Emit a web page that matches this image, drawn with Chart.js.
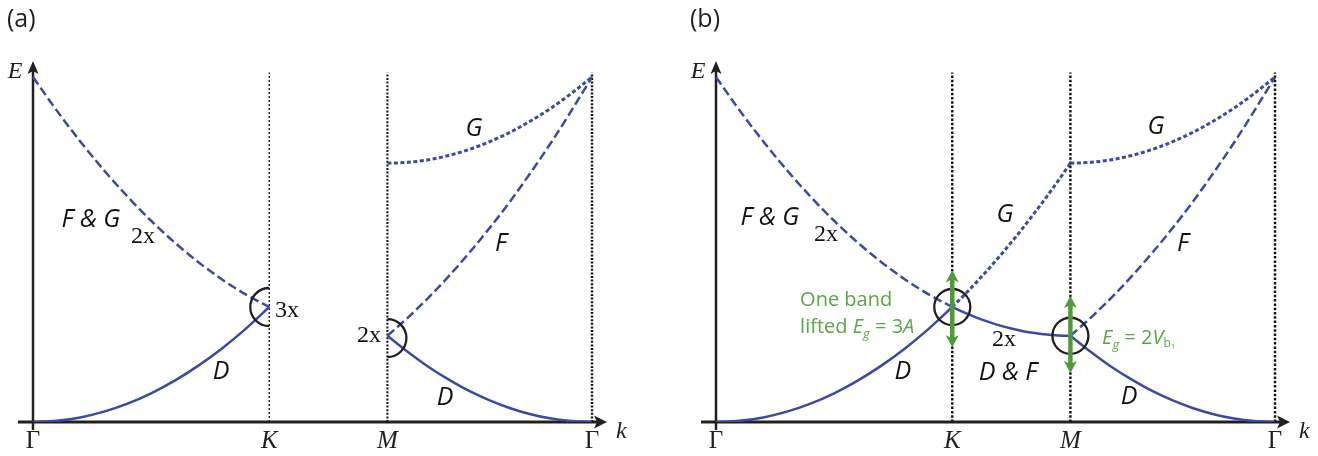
<!DOCTYPE html>
<html><head><meta charset="utf-8">
<script src="https://cdn.jsdelivr.net/npm/chart.js@4.4.1/dist/chart.umd.min.js"></script>
<style>
html,body{margin:0;padding:0;background:#fff;}
#wrap{position:relative;width:1318px;height:456px;overflow:hidden;}
canvas{position:absolute;top:0;}
</style></head>
<body>
<div id="wrap">
<canvas id="ca" width="640" height="456" style="left:0px"></canvas>
<canvas id="cb" width="635" height="456" style="left:683px"></canvas>
</div>
<script>
// ---- data (k along Γ-K-M-Γ, E in units of the free-electron energy at K) ----
const kTicks  = [0, 1, 1.5, 2.366];
const kLabels = ['Γ', 'K', 'M', 'Γ'];
const kGK = [0, 0.1, 0.2, 0.3, 0.4, 0.5, 0.6, 0.7, 0.8, 0.9, 1.0];
const kKM = [1.0, 1.05, 1.1, 1.15, 1.2, 1.25, 1.3, 1.35, 1.4, 1.45, 1.5];
const kMG = [1.5, 1.587, 1.673, 1.760, 1.846, 1.933, 2.020, 2.106, 2.193, 2.279, 2.366];
const D_GK  = [0, 0.01, 0.04, 0.09, 0.16, 0.25, 0.36, 0.49, 0.64, 0.81, 1.0];
const FG_GK = [3.0, 2.71, 2.44, 2.19, 1.96, 1.75, 1.56, 1.39, 1.24, 1.11, 1.0];
const DF_KM = [1.0, 0.953, 0.91, 0.873, 0.84, 0.813, 0.79, 0.773, 0.76, 0.753, 0.75];
const G_KM  = [1.0, 1.103, 1.21, 1.323, 1.44, 1.563, 1.69, 1.823, 1.96, 2.103, 2.25];
const D_MG  = [0.75, 0.608, 0.48, 0.368, 0.27, 0.188, 0.12, 0.068, 0.03, 0.008, 0];
const F_MG  = [0.75, 0.908, 1.08, 1.268, 1.47, 1.688, 1.92, 2.168, 2.43, 2.708, 3.0];
const G_MG  = [2.25, 2.258, 2.28, 2.318, 2.37, 2.438, 2.52, 2.618, 2.73, 2.858, 3.0];
const E_TOP = 3.04;
const gapK = [1.32, 0.65];   // green arrow at K (b)
const gapM = [1.096, 0.426]; // green arrow at M (b)

const BLUE = '#3b4aa2', INK = '#231f20', GREEN = '#4f9b3c', GTXT = '#5aa548';
const F_IT = "italic 25px 'Open Sans'";
const F_SER = "24px 'Liberation Serif'";
const F_AX = "italic 24px 'Liberation Serif'";

function pts(x, y) { return x.map((k, i) => ({x: k, y: y[i]})); }
function curve(data, style) {
  const d = {data, borderColor: BLUE, borderWidth: 2.5, pointRadius: 0, fill: false,
             cubicInterpolationMode: 'monotone', order: 1};
  if (style === 'dash') d.borderDash = [9, 4];
  if (style === 'dot') { d.borderDash = [4, 2.5]; d.borderWidth = 3; }
  return d;
}
function vline(k, w, dash) {
  return {data: [{x: k, y: 0}, {x: k, y: E_TOP}], borderColor: '#111', borderWidth: w,
          borderDash: dash, pointRadius: 0, fill: false, order: 10};
}

function richText(ctx, x, y, segs, align) {
  let w = 0;
  segs.forEach(s => { ctx.font = s[1]; w += ctx.measureText(s[0]).width; });
  let cx = align === 'left' ? x : x - w / 2;
  ctx.textAlign = 'left'; ctx.textBaseline = 'middle';
  segs.forEach(s => { ctx.font = s[1]; ctx.fillStyle = s[3]; ctx.fillText(s[0], cx, y + s[2]); cx += ctx.measureText(s[0]).width; });
}

function decoPlugin(cfg) {
  return {
    id: 'deco',
    beforeDatasetsDraw(chart) {
      const ctx = chart.ctx, xs = chart.scales.x, ys = chart.scales.y, ca = chart.chartArea;
      const x0 = xs.getPixelForValue(0), y0 = ys.getPixelForValue(0);
      ctx.save();
      ctx.strokeStyle = INK; ctx.fillStyle = INK; ctx.lineWidth = 3;
      ctx.beginPath(); ctx.moveTo(ca.left, y0); ctx.lineTo(ca.right - 6, y0); ctx.stroke();
      ctx.beginPath(); ctx.moveTo(ca.right + 2, y0); ctx.lineTo(ca.right - 11, y0 - 6.5);
      ctx.lineTo(ca.right - 8, y0); ctx.lineTo(ca.right - 11, y0 + 6.5); ctx.closePath(); ctx.fill();
      ctx.lineWidth = 2.5;
      ctx.beginPath(); ctx.moveTo(x0, y0 + 8); ctx.lineTo(x0, ca.top + 8); ctx.stroke();
      ctx.beginPath(); ctx.moveTo(x0, ca.top + 1); ctx.lineTo(x0 - 5.5, ca.top + 14);
      ctx.lineTo(x0, ca.top + 11); ctx.lineTo(x0 + 5.5, ca.top + 14); ctx.closePath(); ctx.fill();
      ctx.restore();
    },
    afterDatasetsDraw(chart) {
      const ctx = chart.ctx, xs = chart.scales.x, ys = chart.scales.y;
      const px = k => xs.getPixelForValue(k), py = e => ys.getPixelForValue(e);
      ctx.save();
      ctx.strokeStyle = INK; ctx.lineWidth = 2.3;
      cfg.arcs.forEach(a => {
        ctx.beginPath(); ctx.arc(px(a.k), py(a.e), a.r, a.a0, a.a1); ctx.stroke();
      });
      (cfg.arrows || []).forEach(a => {
        const x = px(a.k), yt = py(a.e[0]), yb = py(a.e[1]);
        ctx.strokeStyle = GREEN; ctx.fillStyle = GREEN; ctx.lineWidth = 4.5;
        ctx.beginPath(); ctx.moveTo(x, yt + 8); ctx.lineTo(x, yb - 8); ctx.stroke();
        ctx.beginPath(); ctx.moveTo(x, yt); ctx.lineTo(x - 6.5, yt + 12); ctx.lineTo(x, yt + 9);
        ctx.lineTo(x + 6.5, yt + 12); ctx.closePath(); ctx.fill();
        ctx.beginPath(); ctx.moveTo(x, yb); ctx.lineTo(x - 6.5, yb - 12); ctx.lineTo(x, yb - 9);
        ctx.lineTo(x + 6.5, yb - 12); ctx.closePath(); ctx.fill();
      });
      ctx.textBaseline = 'middle';
      cfg.labels.forEach(l => {
        ctx.font = l.f; ctx.fillStyle = '#111'; ctx.textAlign = 'center';
        ctx.fillText(l.t, px(l.k), py(l.e));
      });
      (cfg.rich || []).forEach(r => richText(ctx, px(r.k), py(r.e), r.segs, r.align));
      ctx.font = F_AX; ctx.fillStyle = INK; ctx.textAlign = 'center'; ctx.textBaseline = 'middle';
      ctx.fillText('E', px(-0.076), py(3.05));
      ctx.fillText('k', px(2.49), py(-0.08));
      ctx.font = "25px 'Open Sans'"; ctx.textAlign = 'left'; ctx.textBaseline = 'middle';
      ctx.fillText(cfg.name, 7, 20);
      ctx.restore();
    }
  };
}

function makeChart(id, datasets, cfg, rightPad) {
  new Chart(document.getElementById(id), {
    type: 'line',
    data: {datasets},
    options: {
      responsive: false, animation: false, events: [],
      layout: {padding: {left: 18, right: rightPad, top: 60, bottom: 0}},
      plugins: {legend: {display: false}, tooltip: {enabled: false}, title: {display: false}},
      scales: {
        x: {type: 'linear', min: -0.0635, max: 2.421,
            grid: {display: false}, border: {display: false},
            afterBuildTicks: s => { s.ticks = kTicks.map(v => ({value: v})); },
            afterFit: s => { s.height = 34; },
            ticks: {autoSkip: false, maxRotation: 0, padding: -4, color: INK,
                    callback: (v, i) => kLabels[i],
                    font: c => ({family: "'Liberation Serif'", size: 25,
                                 style: (c.index === 1 || c.index === 2) ? 'italic' : 'normal'})}},
        y: {type: 'linear', min: 0, max: 3.148, display: false}
      }
    },
    plugins: [decoPlugin(cfg)]
  });
}

// ---- panel (a) ----
makeChart('ca', [
  curve(pts(kGK, D_GK), 'solid'),
  curve(pts(kGK, FG_GK), 'dash'),
  curve(pts(kMG, D_MG), 'solid'),
  curve(pts(kMG, F_MG), 'dash'),
  curve(pts(kMG, G_MG), 'dot'),
  vline(kTicks[1], 1.3, [2, 2]),
  vline(kTicks[2], 2, [2, 1.6]),
  vline(kTicks[3], 2.4, [2, 1.6])
], {
  name: '(a)',
  arcs: [{k: 1, e: 1.0, r: 19, a0: Math.PI * 0.5, a1: Math.PI * 1.5},
         {k: 1.5, e: 0.73, r: 19, a0: -Math.PI * 0.5, a1: Math.PI * 0.5}],
  labels: [
    {t: 'F & G', k: 0.245, e: 1.757, f: F_IT},
    {t: '2x', k: 0.466, e: 1.609, f: F_SER},
    {t: '3x', k: 1.075, e: 0.965, f: F_SER},
    {t: 'D', k: 0.796, e: 0.435, f: F_IT},
    {t: '2x', k: 1.422, e: 0.748, f: F_SER},
    {t: 'G', k: 1.867, e: 2.548, f: F_IT},
    {t: 'F', k: 1.981, e: 1.548, f: F_IT},
    {t: 'D', k: 1.744, e: 0.209, f: F_IT}
  ]
}, 35);

// ---- panel (b) ----
const GF = "20px 'Open Sans'", GFI = "italic 20px 'Open Sans'", GFS = "italic 13px 'Open Sans'";
makeChart('cb', [
  curve(pts(kGK, D_GK), 'solid'),
  curve(pts(kGK, FG_GK), 'dash'),
  curve(pts(kKM, DF_KM), 'solid'),
  curve(pts(kKM, G_KM), 'dot'),
  curve(pts(kMG, D_MG), 'solid'),
  curve(pts(kMG, F_MG), 'dash'),
  curve(pts(kMG, G_MG), 'dot'),
  vline(kTicks[1], 2.4, [2.5, 1.8]),
  vline(kTicks[2], 2.4, [2.5, 1.8]),
  vline(kTicks[3], 2.4, [2.5, 1.8])
], {
  name: '(b)',
  arcs: [{k: 1, e: 1.0, r: 18, a0: 0, a1: Math.PI * 2},
         {k: 1.5, e: 0.75, r: 18, a0: 0, a1: Math.PI * 2}],
  arrows: [{k: 1, e: gapK}, {k: 1.5, e: gapM}],
  labels: [
    {t: 'F & G', k: 0.228, e: 1.774, f: F_IT},
    {t: '2x', k: 0.466, e: 1.626, f: F_SER},
    {t: 'G', k: 1.223, e: 1.80, f: F_IT},
    {t: 'D', k: 0.791, e: 0.435, f: F_IT},
    {t: '2x', k: 1.219, e: 0.713, f: F_SER},
    {t: 'D & F', k: 1.236, e: 0.426, f: F_IT},
    {t: 'G', k: 1.862, e: 2.565, f: F_IT},
    {t: 'F', k: 1.977, e: 1.548, f: F_IT},
    {t: 'D', k: 1.748, e: 0.217, f: F_IT}
  ],
  rich: [
    {k: 0.356, e: 1.061, align: 'left', segs: [['One band', GF, 0, GTXT]]},
    {k: 0.356, e: 0.826, align: 'left', segs: [['lifted ', GF, 0, GTXT], ['E', GFI, 0, GTXT], ['g', GFS, 7, GTXT],
                                               [' = 3', GF, 0, GTXT], ['A', GFI, 0, GTXT]]},
    {k: 1.634, e: 0.73, align: 'left', segs: [['E', GFI, 0, GTXT], ['g', GFS, 7, GTXT], [' = 2', GF, 0, GTXT],
                                              ['V', GFI, 0, GTXT], ['b', "12px 'Open Sans'", 6, GTXT],
                                              ['1', "8px 'Open Sans'", 9, GTXT]]}
  ]
}, 30);
</script>
</body></html>
